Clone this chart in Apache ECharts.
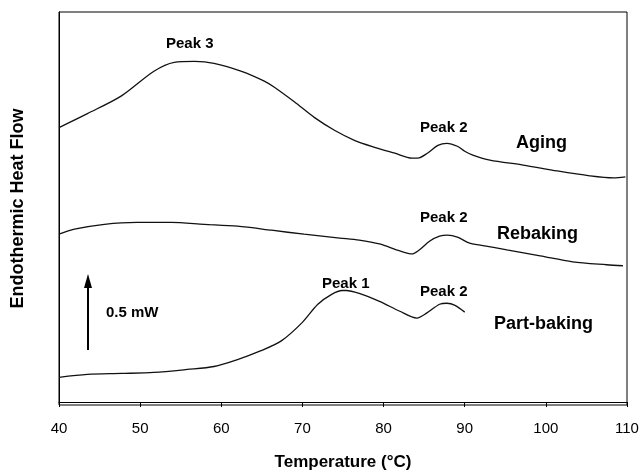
<!DOCTYPE html>
<html>
<head>
<meta charset="utf-8">
<script src="https://cdn.jsdelivr.net/npm/echarts@6/dist/echarts.min.js"></script>
<style>html,body{margin:0;padding:0;background:#fff}#c{width:642px;height:476px}</style>
</head>
<body>
<div id="c"></div>
<script>
// Temperature (°C) and heat-flow values (mW, arbitrary offset)
var agingT = [40, 43.5, 47.7, 51.7, 54.2, 56.7, 59.1, 62.5, 65.3, 66.5, 69.0, 71.5, 74.0, 76.4, 78.9, 81.4, 83.5, 84.2, 85.4, 86.7, 87.8, 89.1, 90.0, 91.0, 93.1, 97.2, 101.4, 105.4, 108.3, 109.8];
var agingV = [1.853, 1.947, 2.067, 2.233, 2.293, 2.300, 2.287, 2.233, 2.167, 2.127, 2.027, 1.920, 1.833, 1.767, 1.720, 1.680, 1.647, 1.647, 1.680, 1.733, 1.747, 1.727, 1.693, 1.667, 1.633, 1.600, 1.560, 1.527, 1.513, 1.520];

var rebakingT = [40, 41.9, 45.6, 49.6, 53.8, 57.9, 62.0, 66.2, 70.2, 74.6, 77.0, 79.5, 82.0, 83.5, 84.4, 85.7, 86.9, 87.9, 89.1, 90.6, 91.9, 95.2, 99.3, 103.3, 107.5, 109.5];
var rebakingV = [1.133, 1.167, 1.200, 1.213, 1.213, 1.200, 1.187, 1.160, 1.133, 1.107, 1.093, 1.067, 1.020, 1.000, 1.027, 1.087, 1.120, 1.127, 1.113, 1.073, 1.060, 1.027, 0.987, 0.947, 0.927, 0.920];

var partT = [40, 43.5, 47.7, 51.7, 55.8, 59.1, 62.0, 64.9, 67.4, 69.9, 71.9, 73.6, 74.9, 75.4, 77.0, 79.5, 82.0, 84.1, 85.3, 86.9, 87.8, 88.8, 90.0];
var partV = [0.167, 0.187, 0.193, 0.200, 0.220, 0.240, 0.287, 0.347, 0.413, 0.533, 0.660, 0.727, 0.753, 0.753, 0.733, 0.680, 0.613, 0.567, 0.600, 0.660, 0.667, 0.653, 0.607];

var xTicks = [40, 50, 60, 70, 80, 90, 100, 110];

function pairs(t, v) { return t.map(function (x, i) { return [x, v[i]]; }); }

var chart = echarts.init(document.getElementById('c'), null, {renderer: 'canvas'});
var lineStyle = {color: '#111', width: 1.3};
function mk(name, t, v) {
  return {name: name, type: 'line', data: pairs(t, v), smooth: 0.3, showSymbol: false, symbol: 'none', lineStyle: lineStyle, animation: false};
}
var ff = 'Liberation Sans, Arial, sans-serif';
function txt(x, y, s, size) {
  return {type: 'text', x: x, y: y, style: {text: s, fontSize: size, fontWeight: 'bold', fontFamily: ff, fill: '#000', verticalAlign: 'middle', align: 'left'}};
}
chart.setOption({
  backgroundColor: '#fff',
  animation: false,
  grid: {left: 59, right: 15, top: 12, bottom: 66, show: true, borderColor: '#000', borderWidth: 1},
  xAxis: {
    type: 'value', min: xTicks[0], max: xTicks[xTicks.length - 1], interval: 10,
    name: 'Temperature (°C)', nameLocation: 'middle', nameGap: 49,
    nameTextStyle: {fontSize: 17, fontWeight: 'bold', fontFamily: ff, color: '#000'},
    axisLine: {lineStyle: {color: '#000', width: 1}},
    axisTick: {show: true, inside: false, length: 5, lineStyle: {color: '#000'}},
    axisLabel: {fontSize: 15, fontFamily: ff, color: '#000', margin: 16},
    splitLine: {show: false}
  },
  yAxis: {
    type: 'value', min: -0.02, max: 2.6333,
    name: 'Endothermic Heat Flow', nameLocation: 'middle', nameGap: 32, nameRotate: 90,
    nameTextStyle: {fontSize: 18, fontWeight: 'bold', fontFamily: ff, color: '#000'},
    axisLine: {show: true, lineStyle: {color: '#000', width: 1}},
    axisTick: {show: false}, axisLabel: {show: false}, splitLine: {show: false}
  },
  series: [mk('Aging', agingT, agingV), mk('Rebaking', rebakingT, rebakingV), mk('Part-baking', partT, partV)],
  graphic: [
    txt(166, 44, 'Peak 3', 15),
    txt(420, 128, 'Peak 2', 15),
    txt(516, 143, 'Aging', 18),
    txt(420, 218, 'Peak 2', 15),
    txt(497, 234, 'Rebaking', 18),
    txt(322, 284, 'Peak 1', 15),
    txt(420, 292, 'Peak 2', 15),
    txt(494, 324, 'Part-baking', 18),
    txt(106, 313, '0.5 mW', 15),
    {type: 'line', shape: {x1: 88, y1: 350, x2: 88, y2: 284}, style: {stroke: '#000', lineWidth: 2}},
    {type: 'polygon', shape: {points: [[88, 274], [84, 288], [92, 288]]}, style: {fill: '#000'}}
  ]
});
</script>
</body>
</html>
